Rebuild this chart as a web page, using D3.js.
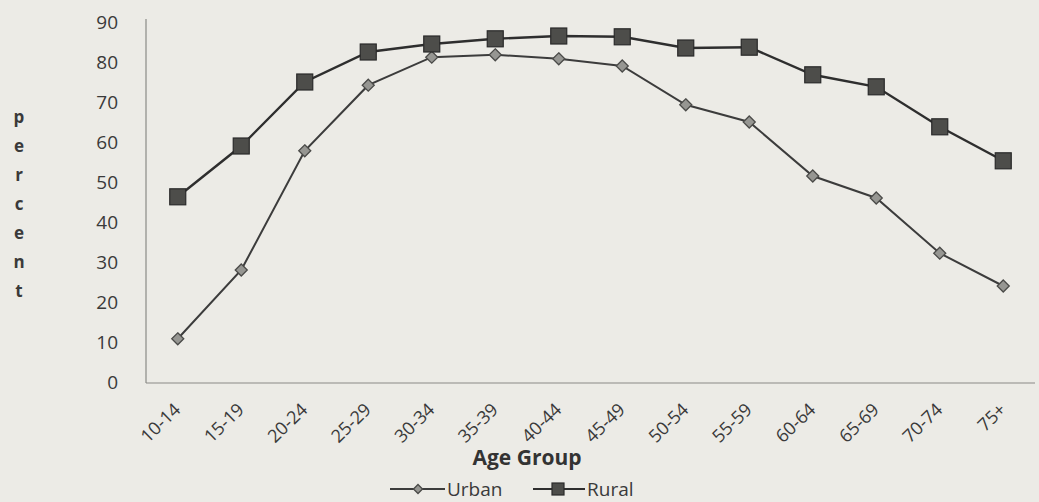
<!DOCTYPE html>
<html><head><meta charset="utf-8">
<script src="https://cdn.jsdelivr.net/npm/d3@7/dist/d3.min.js"></script>
<style>
html,body{margin:0;padding:0;background:#ecebe6;}
svg{display:block;}
</style></head>
<body>
<svg id="chart" width="1039" height="502"></svg>
<script>
const categories = ["10-14","15-19","20-24","25-29","30-34","35-39","40-44","45-49","50-54","55-59","60-64","65-69","70-74","75+"];
const urban = [10.8, 28, 57.8, 74.2, 81.2, 81.8, 80.8, 79, 69.3, 65, 51.5, 46, 32.2, 24];
const rural = [46.3, 59, 75, 82.5, 84.5, 85.8, 86.5, 86.3, 83.5, 83.7, 76.8, 73.8, 63.8, 55.3];
const yTicks = [0,10,20,30,40,50,60,70,80,90];
const yTickLabels = ["0","10","20","30","40","50","60","70","80","90"];
const yTitle = "percent";
const xTitle = "Age Group";
const seriesNames = ["Urban","Rural"];

(function(){
const svg = d3.select("#chart");
const font = "'Open Sans', 'DejaVu Sans', sans-serif";
const mLeft = 146, mRight = 1035, mTop = 22, mBottom = 382;

const x = d3.scaleBand().domain(categories).range([mLeft, mRight]);
const y = d3.scaleLinear().domain([0, 90]).range([mBottom, mTop]);
const cx = c => x(c) + x.bandwidth()/2;

// axes lines
svg.append("line").attr("x1", mLeft).attr("x2", mLeft).attr("y1", mTop - 3).attr("y2", mBottom + 1)
  .attr("stroke", "#8a8a86").attr("stroke-width", 1.2);
svg.append("line").attr("x1", mLeft).attr("x2", mRight).attr("y1", mBottom + 1).attr("y2", mBottom + 1)
  .attr("stroke", "#8a8a86").attr("stroke-width", 1.2);

// y tick labels
const yAxis = d3.axisLeft(y).tickValues(yTicks).tickFormat((d,i) => yTickLabels[i]).tickSize(0).tickPadding(28);
const gy = svg.append("g").attr("transform", `translate(${mLeft},0)`).call(yAxis);
gy.select(".domain").remove();
gy.selectAll("text").attr("font-family", font).attr("font-size", 19).attr("fill", "#3a3a3a");

// x tick labels rotated
const xAxis = d3.axisBottom(x).tickSize(0).tickPadding(0);
const gx = svg.append("g").attr("transform", `translate(0,${mBottom})`).call(xAxis);
gx.select(".domain").remove();
gx.selectAll("text")
  .attr("font-family", font).attr("font-size", 18).attr("fill", "#3a3a3a")
  .attr("text-anchor", "end").attr("dy", null).attr("y", 0)
  .attr("transform", "translate(4,29) rotate(-44)");

// y title stacked letters
svg.append("g").selectAll("text").data(yTitle.split("")).join("text")
  .attr("x", 19).attr("y", (d,i) => 123 + i*29)
  .attr("text-anchor", "middle").attr("font-family", font).attr("font-weight", "bold")
  .attr("font-size", 17).attr("fill", "#3a3a3a").text(d => d);

// x title
svg.append("text").attr("x", 527).attr("y", 465).attr("text-anchor", "middle")
  .attr("font-family", font).attr("font-weight", "bold").attr("font-size", 21)
  .attr("fill", "#333").text(xTitle);

// lines
const line = d3.line().x((d,i) => cx(categories[i])).y(d => y(d));
svg.append("path").datum(urban).attr("d", line).attr("fill", "none").attr("stroke", "#3c3c3c").attr("stroke-width", 2);
svg.append("path").datum(rural).attr("d", line).attr("fill", "none").attr("stroke", "#2e2e2e").attr("stroke-width", 2.4);

// markers
function diamond(g, px, py, s) {
  g.append("path").attr("d", `M${px},${py-s}L${px+s},${py}L${px},${py+s}L${px-s},${py}Z`)
    .attr("fill", "#969692").attr("stroke", "#4a4a48").attr("stroke-width", 1.3);
}
function square(g, px, py, s) {
  g.append("rect").attr("x", px - s).attr("y", py - s).attr("width", 2*s).attr("height", 2*s)
    .attr("fill", "#4d4d4a").attr("stroke", "#2a2a2a").attr("stroke-width", 1.2);
}
const gm = svg.append("g");
urban.forEach((v,i) => diamond(gm, cx(categories[i]), y(v), 6));
rural.forEach((v,i) => square(gm, cx(categories[i]), y(v), 8));

// legend
const lg = svg.append("g");
const ly = 489;
lg.append("line").attr("x1", 390).attr("x2", 445).attr("y1", ly).attr("y2", ly).attr("stroke", "#3c3c3c").attr("stroke-width", 2);
diamond(lg, 418, ly, 4.5);
lg.append("text").attr("x", 447).attr("y", ly + 7).attr("font-family", font).attr("font-size", 19).attr("fill", "#3a3a3a").text(seriesNames[0]);
lg.append("line").attr("x1", 533).attr("x2", 585).attr("y1", ly).attr("y2", ly).attr("stroke", "#2e2e2e").attr("stroke-width", 2.2);
square(lg, 558, ly, 6);
lg.append("text").attr("x", 587).attr("y", ly + 7).attr("font-family", font).attr("font-size", 19).attr("fill", "#3a3a3a").text(seriesNames[1]);
})();
</script>
</body></html>
